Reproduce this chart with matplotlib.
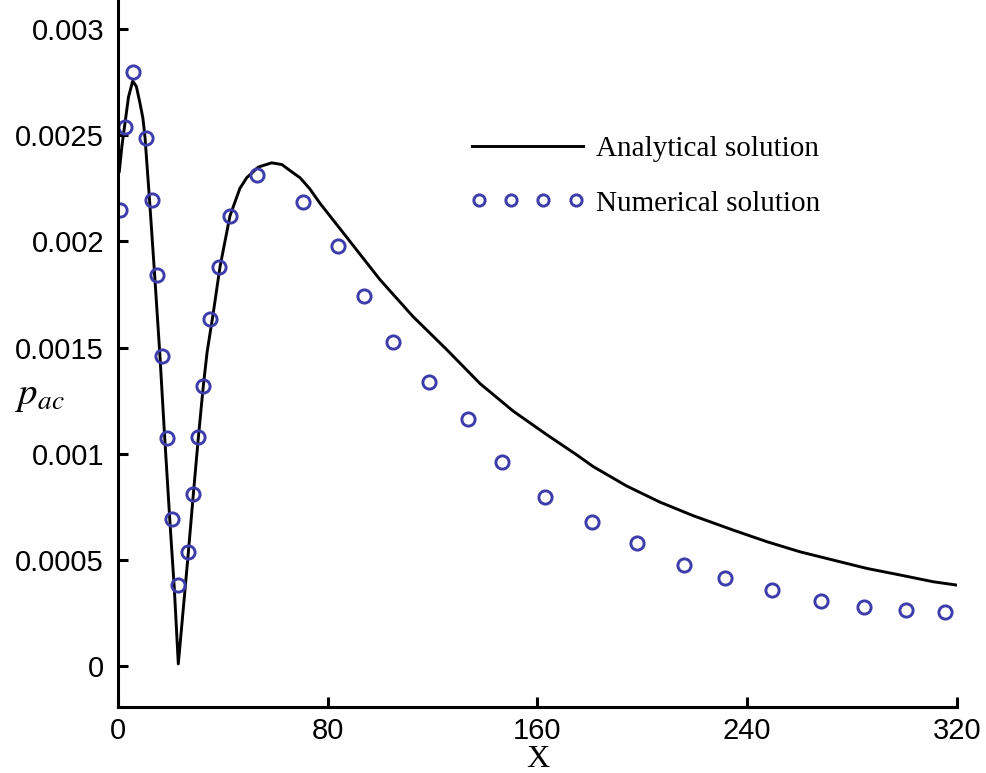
import matplotlib.pyplot as plt
from matplotlib.legend_handler import HandlerLine2D
import numpy as np

# analytical solution
x_ana = [0.5, 1.5, 2.7, 4.0, 5.6, 7.0, 8.4, 9.5, 10.3, 12.0, 14.1, 16.0, 17.6, 19.8,
         21.5, 23.0, 26.8, 28.7, 30.6, 32.5, 34.0, 36.3, 38.9, 42.7, 46.5, 49.1,
         53.5, 58.6, 62.5, 66.0, 69.4, 73.0, 77.0, 87.2, 99.9, 112.6, 125.4, 138.1,
         150.8, 163.5, 174.9, 181.3, 194.0, 206.7, 219.4, 234.7, 247.4, 260.1,
         272.8, 285.5, 298.2, 310.9, 320.0]
p_ana = [0.00233, 0.00245, 0.00256, 0.00268, 0.002755, 0.00273, 0.00265, 0.00258,
         0.00249, 0.00220, 0.00182, 0.00146, 0.00112, 0.00068, 0.00036, 0.00001,
         0.00053, 0.000805, 0.00107, 0.001315, 0.00148, 0.00166, 0.00188, 0.00212,
         0.00225, 0.00230, 0.00235, 0.00237, 0.002362, 0.00233, 0.00230, 0.00225,
         0.00218, 0.00202, 0.00182, 0.001645, 0.00149, 0.00133, 0.00120, 0.00109,
         0.000995, 0.000939, 0.000848, 0.000772, 0.000708, 0.00064, 0.000586,
         0.000538, 0.000499, 0.00046, 0.000429, 0.000397, 0.000381]

# numerical solution (circles)
x_num = [0.8, 2.7, 5.7, 10.7, 13.0, 14.9, 16.8, 18.7, 20.6, 22.9, 26.7, 28.6, 30.5,
         32.4, 35.1, 38.5, 42.7, 53.0, 70.6, 83.9, 93.8, 104.9, 118.6, 133.5, 146.5,
         162.9, 180.8, 197.9, 215.9, 231.5, 249.4, 268.1, 284.5, 300.5, 315.4]
p_num = [0.002148, 0.002538, 0.002797, 0.002487, 0.002195, 0.001841, 0.00146,
         0.001074, 0.000692, 0.000381, 0.000537, 0.00081, 0.001078, 0.001319,
         0.001634, 0.001879, 0.002119, 0.002312, 0.002185, 0.001978, 0.001743,
         0.001526, 0.001338, 0.001163, 0.000961, 0.000796, 0.000678, 0.000579,
         0.000476, 0.000414, 0.000358, 0.000306, 0.000278, 0.000264, 0.000254]

xticks = [0, 80, 160, 240, 320]
yticks = [0, 0.0005, 0.001, 0.0015, 0.002, 0.0025, 0.003]
ytick_labels = ["0", "0.0005", "0.001", "0.0015", "0.002", "0.0025", "0.003"]

plt.rcParams['font.family'] = ['Liberation Sans', 'DejaVu Sans']
plt.rcParams['mathtext.fontset'] = 'stix'

fig = plt.figure(figsize=(9.87, 7.73), dpi=100)
ax = fig.add_axes([118 / 987, 1 - 707 / 773, (957 - 118) / 987, 707 / 773])

line_ana, = ax.plot(x_ana, p_ana, color="black", lw=2.1, label="Analytical solution")
line_num, = ax.plot(x_num, p_num, ls="none", marker="o", ms=9.5, mfc="none",
                    mec="#3c3caa", mew=2.1, label="Numerical solution")

ax.set_xlim(0, 320)
ax.set_ylim(-0.000193, 0.003137)
ax.set_xticks(xticks)
ax.set_yticks(yticks)
ax.set_yticklabels(ytick_labels)

for s in ["top", "right"]:
    ax.spines[s].set_visible(False)
for s in ["left", "bottom"]:
    ax.spines[s].set_linewidth(2.2)

ax.tick_params(axis="both", direction="in", length=7, width=2.2, labelsize=21)
ax.tick_params(axis="y", pad=10)
ax.tick_params(axis="x", pad=7)

ax.set_xlabel("X", family="Liberation Serif", fontsize=23, labelpad=0)
ax.set_ylabel("$p_{ac}$", fontsize=28, rotation=0)
ax.yaxis.set_label_coords(-0.093, 0.415)

leg = ax.legend(loc="upper left", bbox_to_anchor=(472 / 987, 1 - 136 / 773),
                bbox_transform=fig.transFigure, frameon=False,
                handler_map={line_ana: HandlerLine2D(numpoints=2, marker_pad=0),
                             line_num: HandlerLine2D(numpoints=4, marker_pad=0.25)},
                handlelength=3.8, handletextpad=0.45, labelspacing=0.95,
                borderpad=0, borderaxespad=0, markerscale=0.85,
                prop={"family": "Liberation Serif", "size": 21})

fig.savefig("out.png", dpi=100)
